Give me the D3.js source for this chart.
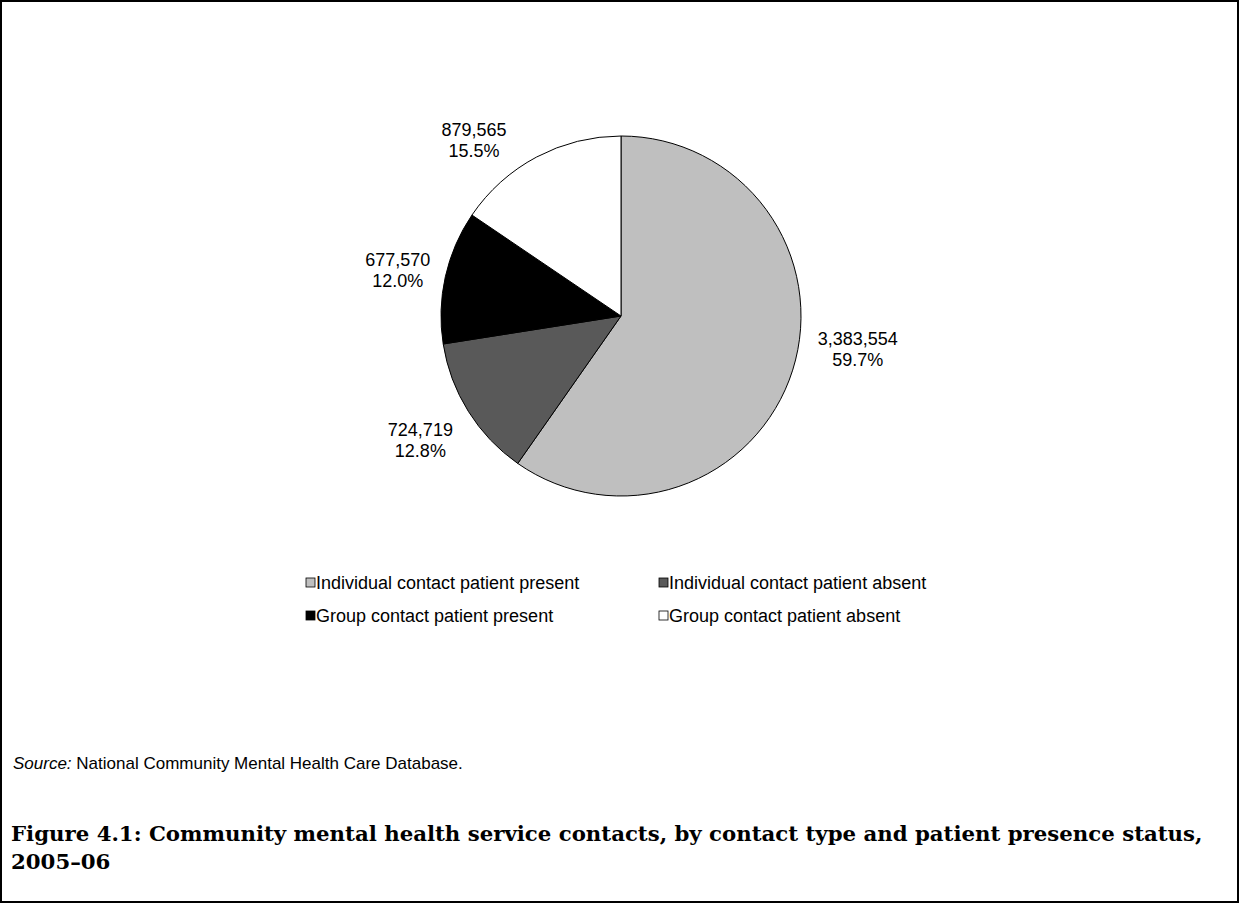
<!DOCTYPE html>
<html>
<head>
<meta charset="utf-8">
<script src="https://cdn.jsdelivr.net/npm/d3@7"></script>
<style>
  html, body { margin: 0; padding: 0; background: #fff; }
  svg { display: block; }
</style>
</head>
<body>
<svg id="chart" width="1239" height="903"></svg>
<script>
// ---- Data ----
const categories = [
  "Individual contact patient present",
  "Individual contact patient absent",
  "Group contact patient present",
  "Group contact patient absent"
];
const values = [3383554, 724719, 677570, 879565];
const percentLabels = ["59.7%", "12.8%", "12.0%", "15.5%"];
const legendOrder = [0, 1, 2, 3];

// ---- Layout / style ----
const W = 1239, H = 903;
const colors = ["#bfbfbf", "#595959", "#000000", "#ffffff"];
const cx = 621, cy = 316, R = 180;
const labelRadius = [239, 236, 228, 229];
const labelAngleShift = [-9.6, 0.2, -0.9, -12]; // degrees, label placement tweak
const sansFont = "'Liberation Sans', Arial, Helvetica, sans-serif";
const serifFont = "'DejaVu Serif', 'Liberation Serif', serif";

const svg = d3.select("#chart");

// Frame
svg.append("rect")
  .attr("x", 1).attr("y", 1).attr("width", W - 2).attr("height", H - 2)
  .attr("fill", "#fff").attr("stroke", "#000").attr("stroke-width", 2);

// Pie
const pie = d3.pie().sort(null).value(d => d)(values);
const arc = d3.arc().innerRadius(0).outerRadius(R);
const g = svg.append("g").attr("transform", `translate(${cx},${cy})`);
g.selectAll("path.slice").data(pie).join("path")
  .attr("class", "slice")
  .attr("d", arc)
  .attr("fill", (d, i) => colors[i])
  .attr("stroke", "#000")
  .attr("stroke-width", 1)
  .attr("stroke-linejoin", "round");

// Labels
const fmt = d3.format(",");
const lbl = g.selectAll("text.lbl").data(pie).join("text")
  .attr("class", "lbl")
  .attr("text-anchor", "middle")
  .attr("font-family", sansFont)
  .attr("font-size", 18)
  .attr("fill", "#000")
  .attr("transform", (d, i) => {
    const a = (d.startAngle + d.endAngle) / 2 + labelAngleShift[i] * Math.PI / 180;
    const r = labelRadius[i];
    return `translate(${r * Math.sin(a)},${-r * Math.cos(a)})`;
  });
lbl.append("tspan").attr("x", 0).attr("y", -4).text(d => fmt(d.data));
lbl.append("tspan").attr("x", 0).attr("y", 17).text((d, i) => percentLabels[i]);

// Legend
const legendCols = [316, 669];
const legendRows = [589, 622];
const leg = svg.append("g");
legendOrder.forEach((ci, k) => {
  const x = legendCols[k % 2], y = legendRows[Math.floor(k / 2)];
  leg.append("rect")
    .attr("x", x - 10).attr("y", y - 11).attr("width", 9).attr("height", 9)
    .attr("fill", colors[ci]).attr("stroke", "#000").attr("stroke-width", 0.8);
  leg.append("text")
    .attr("x", x).attr("y", y)
    .attr("font-family", sansFont).attr("font-size", 18)
    .attr("fill", "#000")
    .text(categories[ci]);
});

// Source
const src = svg.append("text")
  .attr("x", 13).attr("y", 769)
  .attr("font-family", sansFont).attr("font-size", 17).attr("fill", "#000");
src.append("tspan").attr("font-style", "italic").text("Source:");
src.append("tspan").text(" National Community Mental Health Care Database.");

// Title (fit width)
const titleLines = [
  "Figure 4.1: Community mental health service contacts, by contact type and patient presence status,",
  "2005\u201306"
];
const t1 = svg.append("text")
  .attr("x", 11).attr("y", 841)
  .attr("font-family", serifFont).attr("font-weight", "bold")
  .attr("font-size", 20).attr("fill", "#000")
  .text(titleLines[0]);
const len = t1.node().getComputedTextLength();
const fs = 20 * 1192 / len;
t1.attr("font-size", fs);
svg.append("text")
  .attr("x", 11).attr("y", 869)
  .attr("font-family", serifFont).attr("font-weight", "bold")
  .attr("font-size", fs).attr("fill", "#000")
  .text(titleLines[1]);
</script>
</body>
</html>
